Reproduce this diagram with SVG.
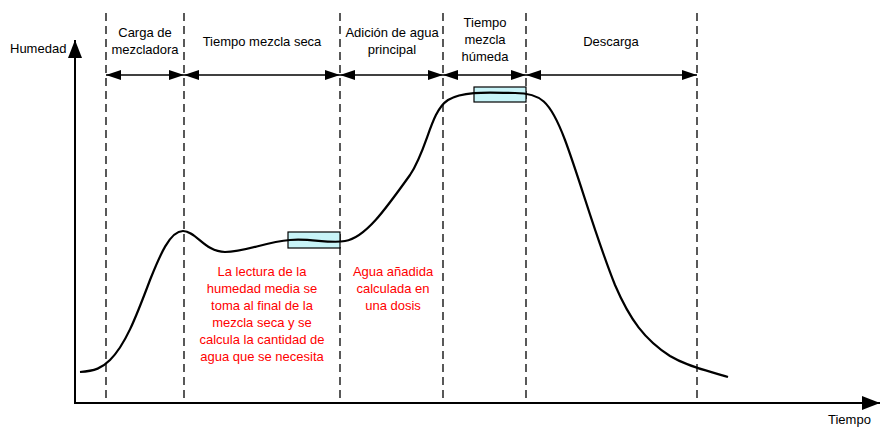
<svg xmlns="http://www.w3.org/2000/svg" width="880" height="429" viewBox="0 0 880 429">
<style>
text{font-family:"Liberation Sans",Arial,sans-serif;font-size:13px;fill:#000}
.c{text-anchor:middle}
.r{fill:#ff0000}
.dash{stroke:#000;stroke-width:1.3;stroke-dasharray:8,5;fill:none}
.span{stroke:#000;stroke-width:1.3;fill:none;marker-start:url(#ah);marker-end:url(#ah)}
.box{fill:#c8f4f8;stroke:#000;stroke-width:1.2}
</style>
<defs>
<marker id="ah" viewBox="0 0 15 10" refX="15" refY="5" markerWidth="15" markerHeight="10" markerUnits="userSpaceOnUse" orient="auto-start-reverse">
<path d="M0,0 L15,5 L0,10 Z" fill="#000"/>
</marker>
<marker id="ax" viewBox="0 0 18 14" refX="18" refY="7" markerWidth="18" markerHeight="14" markerUnits="userSpaceOnUse" orient="auto">
<path d="M0,0 L18,7 L0,14 Z" fill="#000"/>
</marker>
</defs>
<g id="grid">
<line class="dash" x1="106" y1="13" x2="106" y2="403"/>
<line class="dash" x1="184" y1="13" x2="184" y2="403"/>
<line class="dash" x1="340" y1="13" x2="340" y2="403"/>
<line class="dash" x1="443" y1="13" x2="443" y2="403"/>
<line class="dash" x1="526" y1="13" x2="526" y2="403"/>
<line class="dash" x1="697" y1="13" x2="697" y2="403"/>
</g>
<g id="axes">
<line x1="75" y1="404" x2="75" y2="40" stroke="#000" stroke-width="2" marker-end="url(#ax)"/>
<line x1="74" y1="403" x2="880" y2="403" stroke="#000" stroke-width="2" marker-end="url(#ax)"/>
<text x="10" y="53">Humedad</text>
<text x="828" y="424">Tiempo</text>
</g>
<g id="connectors">
<line class="span" x1="106" y1="75" x2="184" y2="75"/>
<line class="span" x1="184" y1="75" x2="340" y2="75"/>
<line class="span" x1="340" y1="75" x2="443" y2="75"/>
<line class="span" x1="443" y1="75" x2="526" y2="75"/>
<line class="span" x1="526" y1="75" x2="697" y2="75"/>
</g>
<g id="phase-labels">
<text class="c" x="145" y="37">Carga de</text>
<text class="c" x="145" y="54">mezcladora</text>
<text class="c" x="262" y="46">Tiempo mezcla seca</text>
<text class="c" x="392" y="37">Adición de agua</text>
<text class="c" x="392" y="54">principal</text>
<text class="c" x="485" y="27">Tiempo</text>
<text class="c" x="485" y="44">mezcla</text>
<text class="c" x="485" y="61">húmeda</text>
<text class="c" x="611" y="46">Descarga</text>
</g>
<g id="box1"><rect class="box" x="288" y="232" width="52" height="16"/></g>
<g id="box2"><rect class="box" x="474" y="87" width="52" height="15"/></g>
<g id="curve">
<path d="M80,372 C95,371 102,368 110,360 C125,345 135,320 150,280 C160,255 170,231 183,231 C196,231 205,252 225,252 C245,252 265,242 290,240 C310,238 330,244 345,241 C365,238 385,210 410,175 C428,148 430,112 448,100 C465,90 495,93 515,93 C540,93 550,100 565,140 C580,180 595,235 615,285 C630,320 645,340 670,356 C690,368 710,371 728,377" fill="none" stroke="#000" stroke-width="2.2"/>
</g>
<g id="note1">
<text class="c r" x="262" y="276">La lectura de la</text>
<text class="c r" x="262" y="293">humedad media se</text>
<text class="c r" x="262" y="310">toma al final de la</text>
<text class="c r" x="262" y="327">mezcla seca y se</text>
<text class="c r" x="262" y="344">calcula la cantidad de</text>
<text class="c r" x="262" y="361">agua que se necesita</text>
</g>
<g id="note2">
<text class="c r" x="393" y="276">Agua añadida</text>
<text class="c r" x="393" y="293">calculada en</text>
<text class="c r" x="393" y="310">una dosis</text>
</g>
</svg>
